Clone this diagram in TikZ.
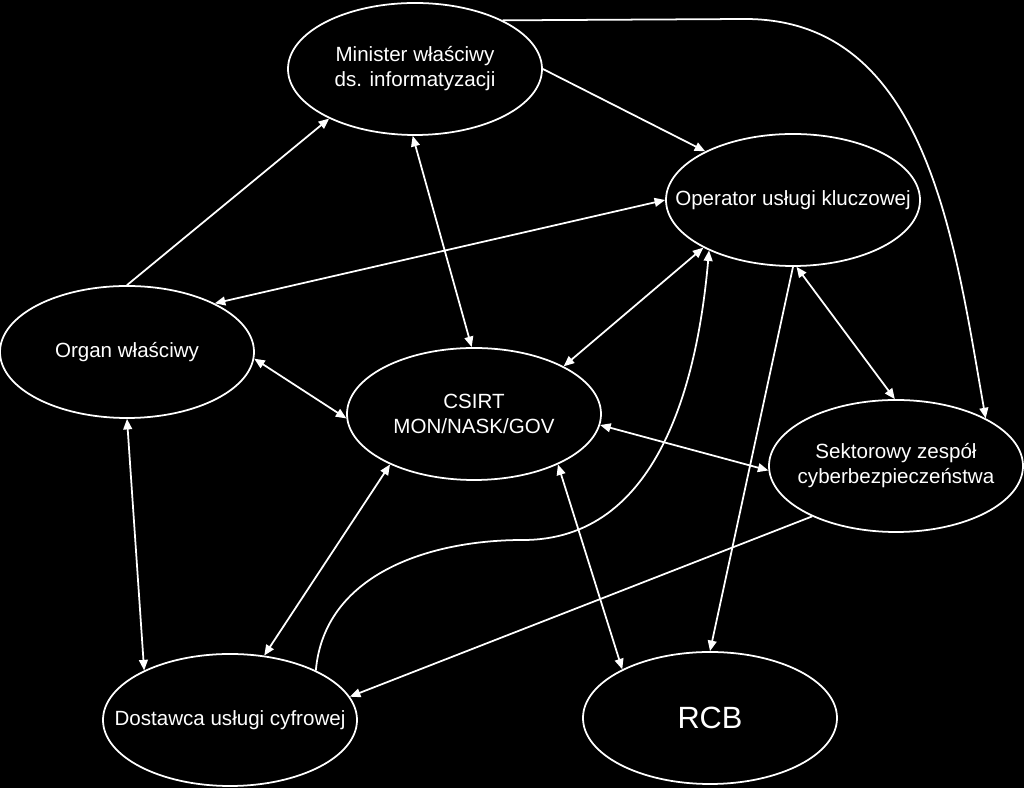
\documentclass[tikz,border=0pt]{standalone}
\usepackage{fontspec}
\setmainfont{Liberation Sans}
\usetikzlibrary{shapes.geometric, arrows.meta}

\begin{document}
\begin{tikzpicture}[white, line width=1pt,
        >={Triangle[length=6pt,width=5pt]},
        actor/.style={ellipse, draw, inner sep=0pt, minimum width=5.08cm, minimum height=2.64cm},
        every label/.style={align=center, font=\fontsize{11.7}{14.2}\selectfont}]
                \fill[black] (0,0) rectangle (20.48,15.76);
                \useasboundingbox (0,0) rectangle (20.48,15.76);
                \node[actor, label=center:{Minister właściwy\\ds. informatyzacji}] (min) at (8.30,14.38) {};
                \node[actor, label=center:{Operator usługi kluczowej}] (oper) at (15.86,11.76) {};
                \node[actor, label=center:{Organ właściwy}] (organ) at (2.54,8.72) {};
                \node[actor, label=center:{CSIRT\\MON/NASK/GOV}] (csirt) at (9.48,7.48) {};
                \node[actor, label=center:{Sektorowy zespół\\cyberbezpieczeństwa}] (sekt) at (17.92,6.44) {};
                \node[actor, label=center:{Dostawca usługi cyfrowej}] (dost) at (4.60,1.36) {};
                \node[actor, label={[font=\fontsize{17.5}{21}\selectfont]center:RCB}] (rcb) at (14.20,1.40) {};
                \coordinate (bend) at (14.90,15.38);
                \coordinate (sbend) at (10.46,4.96);
                % one-way
                \draw[->] (organ.90) -- (min.210);
                \draw[->] (min.0) -- (oper.151);
                \draw[->] (min.29) -- (bend) to[out=0, in=100] (sekt.28);
                \draw[->] (oper.270) -- (rcb.90);
                \draw[->] (dost.30) to[out=85, in=180] (sbend) to[out=0, in=265] (oper.211);
                \draw[->] (sekt.211) -- (dost.11);
                % both ways
                \draw[<->] (min.268) -- (csirt.92);
                \draw[<->] (oper.180) -- (organ.29);
                \draw[<->] (oper.208) -- (csirt.28);
                \draw[<->] (oper.273) -- (sekt.91);
                \draw[<->] (organ.357) -- (csirt.182);
                \draw[<->] (organ.270) -- (dost.150);
                \draw[<->] (csirt.211) -- (dost.62);
                \draw[<->] (csirt.355) -- (sekt.182);
                \draw[<->] (csirt.329) -- (rcb.151);
            \end{tikzpicture}
\end{document}
